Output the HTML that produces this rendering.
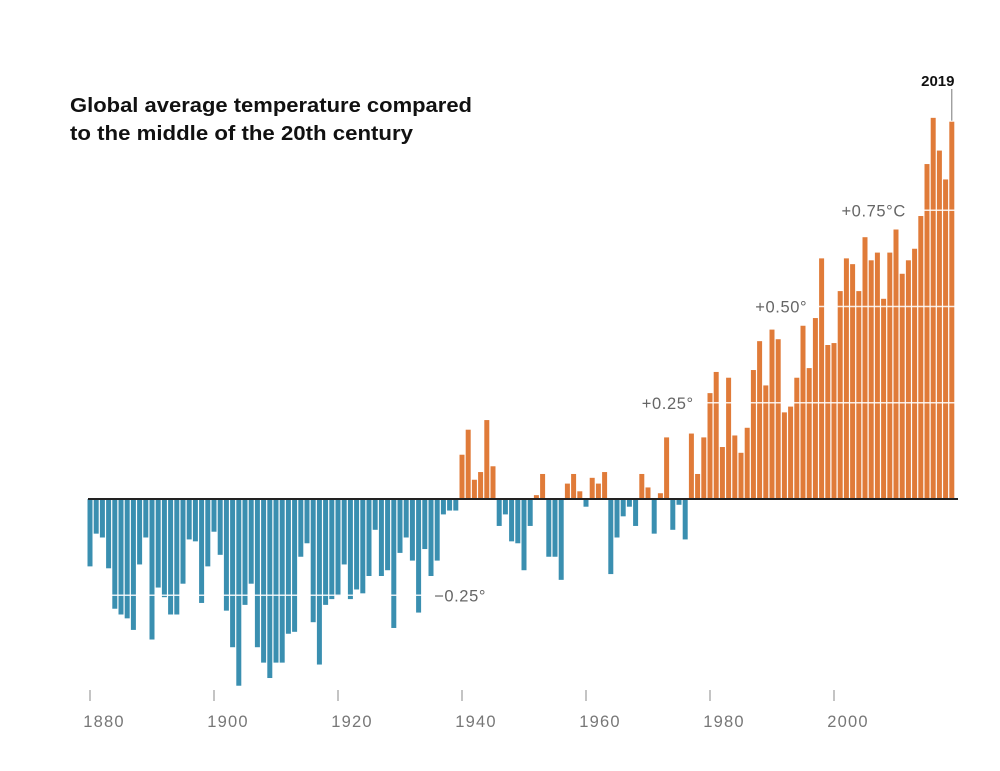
<!DOCTYPE html>
<html><head><meta charset="utf-8"><style>
body{margin:0;background:#fff;}
svg text{font-family:"Liberation Sans",sans-serif;}
</style></head><body>
<svg id="chart" width="1000" height="766" xmlns="http://www.w3.org/2000/svg">
<text x="70" y="112" font-size="20" font-weight="bold" fill="#111" textLength="402" lengthAdjust="spacingAndGlyphs">Global average temperature compared</text>
<text x="70" y="140" font-size="20" font-weight="bold" fill="#111" textLength="343" lengthAdjust="spacingAndGlyphs">to the middle of the 20th century</text>
<g id="bars"></g>
<g id="grid"></g>
<g id="axis"></g>
</svg>
<script>
const startYear = 1880;
const anomalies = [
-0.175,-0.09,-0.10,-0.18,-0.285,-0.30,-0.31,-0.34,-0.17,-0.10,
-0.365,-0.23,-0.255,-0.30,-0.30,-0.22,-0.105,-0.11,-0.27,-0.175,
-0.085,-0.145,-0.29,-0.385,-0.485,-0.275,-0.22,-0.385,-0.425,-0.465,
-0.425,-0.425,-0.35,-0.345,-0.15,-0.115,-0.32,-0.43,-0.275,-0.26,
-0.25,-0.17,-0.26,-0.235,-0.245,-0.20,-0.08,-0.20,-0.185,-0.335,
-0.14,-0.10,-0.16,-0.295,-0.13,-0.20,-0.16,-0.04,-0.03,-0.03,
0.115,0.18,0.05,0.07,0.205,0.085,-0.07,-0.04,-0.11,-0.115,
-0.185,-0.07,0.01,0.065,-0.15,-0.15,-0.21,0.04,0.065,0.02,
-0.02,0.055,0.04,0.07,-0.195,-0.10,-0.045,-0.02,-0.07,0.065,
0.03,-0.09,0.015,0.16,-0.08,-0.015,-0.105,0.17,0.065,0.16,
0.275,0.33,0.135,0.315,0.165,0.12,0.185,0.335,0.41,0.295,
0.44,0.415,0.225,0.24,0.315,0.45,0.34,0.47,0.625,0.40,
0.405,0.54,0.625,0.61,0.54,0.68,0.62,0.64,0.52,0.64,
0.70,0.585,0.62,0.65,0.735,0.87,0.99,0.905,0.83,0.98];
const gridValues = [-0.25,0.25,0.5,0.75];
const gridLabels = ["\u22120.25\u00b0","+0.25\u00b0","+0.50\u00b0","+0.75\u00b0C"];
const gridLabelYears = [1935.5,1969,1987.3,2001.2];
const tickYears = [1880,1900,1920,1940,1960,1980,2000];

const NS="http://www.w3.org/2000/svg";
const xs = yr => 90 + (yr-1880)*6.2;
const ys = v => 499 - v*385;
function mk(tag, attrs, parent){const e=document.createElementNS(NS,tag);for(const k in attrs)e.setAttribute(k,attrs[k]);parent.appendChild(e);return e;}
const bars=document.getElementById('bars'), grid=document.getElementById('grid'), axis=document.getElementById('axis');
anomalies.forEach((v,i)=>{
  const yr=startYear+i, y0=ys(0), y1=ys(v);
  const r=mk('rect',{x:xs(yr)-2.5,y:Math.min(y0,y1),width:5,height:Math.abs(y1-y0),fill:v>=0?'#e07b39':'#3a8fb0'},bars);
  
  
});
gridValues.forEach((g,i)=>{
  const l=mk('line',{x1:86,x2:958,y1:ys(g),y2:ys(g),stroke:'#fff','stroke-width':1.5,opacity:0.85},grid);
  
  
});
gridValues.forEach((g,i)=>{
  const t=mk('text',{x:xs(gridLabelYears[i]),y:ys(g)+6,'font-size':16.5,fill:'#666','letter-spacing':0.6},grid);
  t.textContent=gridLabels[i];
  
  
  const bb=t.getBBox();
  const bg=mk('rect',{x:bb.x-3,y:bb.y,width:bb.width+5,height:bb.height,fill:'#fff'},grid);
  
  
  grid.insertBefore(bg,t);
});
const zl=mk('line',{x1:88,x2:958,y1:ys(0),y2:ys(0),stroke:'#222','stroke-width':2},axis);


tickYears.forEach(yr=>{
  const tk=mk('line',{x1:xs(yr),x2:xs(yr),y1:690,y2:701,stroke:'#888','stroke-width':1},axis);
  
  
  const t=mk('text',{x:xs(yr)+14,y:727,'font-size':16.5,fill:'#777','text-anchor':'middle','letter-spacing':1.2},axis);
  t.textContent=yr;
  
  
});
const last=startYear+anomalies.length-1;
const al=mk('line',{x1:xs(last),x2:xs(last),y1:89,y2:ys(anomalies[anomalies.length-1])-1,stroke:'#777','stroke-width':1},axis);


const at=mk('text',{x:xs(last)-14,y:86,'font-size':15,'font-weight':'bold',fill:'#111','text-anchor':'middle'},axis);
at.textContent=String(last);


</script>
</body></html>
